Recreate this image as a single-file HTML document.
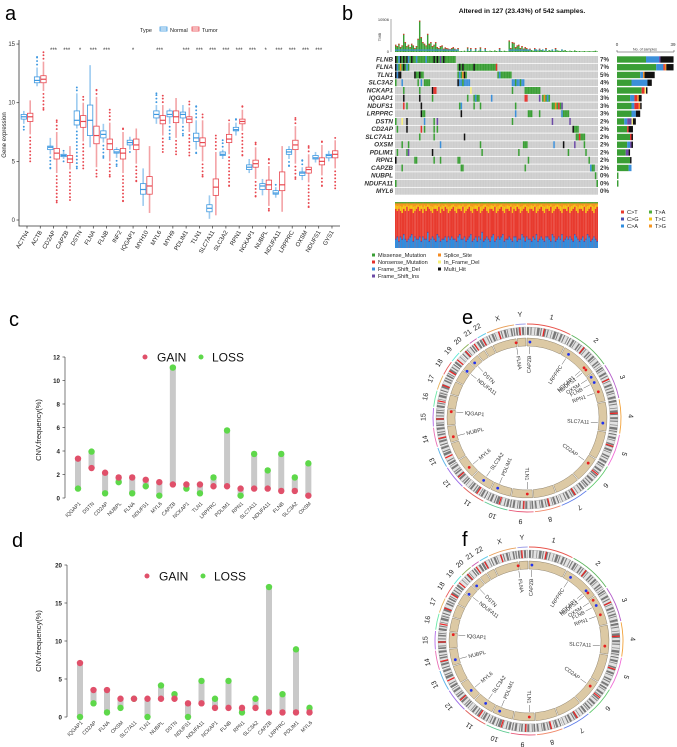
<!DOCTYPE html>
<html><head><meta charset="utf-8">
<style>
html,body{margin:0;padding:0;background:#fff;}
svg{display:block;font-family:"Liberation Sans",sans-serif;}
</style></head>
<body>
<svg id="fig" width="677" height="747" viewBox="0 0 677 747"></svg>
<script>
// ---------- Panel a data ----------
const aGenes=["ACTN4","ACTB","CD2AP","CAPZB","DSTN","FLNA","FLNB","INF2","IQGAP1","MYH10","MYL6","MYH9","PDLIM1","TLN1","SLC7A11","SLC3A2","RPN1","NCKAP1","NUBPL","NDUFA11","LRPPRC","OXSM","NDUFS1","GYS1"];
const aSig=["","","***","***","*","***","***","","*","","***","","***","***","***","***","***","***","*","***","***","***","***",""];
const nMed=[8.8,11.9,6.2,5.5,8.5,8.5,7.3,5.8,6.6,2.6,9.0,9.0,9.0,7.0,1.0,5.6,7.7,4.5,2.9,2.3,5.8,4.0,5.3,5.5];
const nQ1=[8.6,11.7,6.0,5.4,8.1,7.2,7.0,5.7,6.4,2.2,8.7,8.8,8.7,6.7,0.7,5.5,7.6,4.3,2.6,2.2,5.6,3.8,5.2,5.3];
const nQ3=[9.0,12.2,6.3,5.6,9.3,9.8,7.6,6.0,6.8,3.1,9.3,9.3,9.2,7.4,1.3,5.8,7.9,4.7,3.1,2.5,6.0,4.1,5.5,5.6];
const nLo=[8.2,11.4,5.6,5.2,7.8,6.2,6.6,5.3,6.0,1.2,8.2,8.2,8.2,6.0,0.1,5.2,7.2,4.0,2.1,1.9,5.2,3.4,4.9,5.0];
const nHi=[9.3,13.0,7.0,5.8,10.8,13.2,8.2,6.2,7.1,4.4,9.8,9.5,9.8,8.5,2.1,6.0,8.3,5.2,3.5,2.8,6.3,4.5,5.8,5.9];
const nOutLo=[7.7,null,4.4,5.0,4.4,null,5.3,4.6,5.8,null,null,6.9,7.2,5.7,null,null,null,null,null,null,4.6,null,null,null];
const nOutHi=[null,13.9,null,5.9,11.3,null,null,null,null,null,10.8,null,null,9.7,null,6.8,8.6,null,null,3.0,null,5.1,null,null];
const tMed=[8.8,12.0,5.7,5.2,8.4,7.2,6.5,5.7,6.4,2.9,8.5,8.8,8.6,6.6,2.8,6.9,8.4,4.8,3.0,3.0,6.4,4.3,5.0,5.6];
const tQ1=[8.4,11.7,5.2,4.9,7.9,6.5,6.0,5.2,6.0,2.2,8.2,8.3,8.3,6.3,2.1,6.6,8.2,4.5,2.6,2.5,6.0,4.0,4.7,5.3];
const tQ3=[9.1,12.3,6.1,5.5,8.9,8.0,6.9,6.1,6.9,3.7,8.9,9.3,8.8,7.0,3.5,7.3,8.6,5.1,3.4,4.1,6.8,4.5,5.3,5.9];
const tLo=[7.3,11.0,4.0,4.3,6.7,4.5,5.0,4.0,4.8,0.6,7.2,7.0,7.5,5.0,0.4,5.6,7.6,3.5,1.2,0.7,4.8,3.2,3.8,4.4];
const tHi=[10.2,13.5,7.5,6.3,10.0,10.5,8.3,7.5,7.8,6.3,9.8,10.4,9.6,8.5,5.8,8.3,9.4,6.2,4.6,6.3,8.0,5.6,6.4,6.8];
const tOutLo=[5.0,9.4,1.5,1.7,4.4,3.7,3.7,1.6,3.3,null,5.8,5.6,5.5,3.7,null,2.9,5.5,2.0,0.8,null,3.5,1.1,2.9,2.7];
const tOutHi=[null,14.3,8.5,null,10.5,11.1,9.4,7.8,null,null,10.6,null,10.1,9.0,7.2,8.5,9.7,6.6,5.2,null,8.7,6.3,6.7,7.0];
const aTicks=[0,5,10,15];

// ---------- Panel b data ----------
const bGenes=["FLNB","FLNA","TLN1","SLC3A2","NCKAP1","IQGAP1","NDUFS1","LRPPRC","DSTN","CD2AP","SLC7A11","OXSM","PDLIM1","RPN1","CAPZB","NUBPL","NDUFA11","MYL6"];
const bPct=["7%","7%","5%","4%","4%","3%","3%","3%","2%","2%","2%","2%","2%","2%","2%","0%","0%","0%"];
const bCells=[
 [[0,37,'g'],[0,0,'k'],[3,3,'k'],[5,5,'k'],[7,7,'k'],[10,10,'k'],[24,24,'k'],[26,26,'k'],[30,30,'k'],[2,2,'b'],[8,8,'b'],[13,13,'b'],[19,19,'b'],[28,28,'p']],
 [[0,8,'g'],[0,0,'k'],[1,1,'b'],[3,3,'o'],[5,5,'k'],[7,7,'b'],[39,63,'g'],[40,40,'k'],[42,42,'k'],[49,49,'k'],[63,63,'r']],
 [[0,3,'k'],[1,1,'b'],[12,17,'g'],[12,12,'k'],[15,15,'k'],[39,44,'g'],[40,40,'b'],[42,42,'o'],[43,43,'k'],[64,72,'g'],[65,65,'b']],
 [[0,0,'g'],[4,4,'b'],[14,14,'g'],[16,16,'b'],[18,21,'g'],[39,45,'b'],[39,39,'k'],[42,42,'g'],[46,46,'b'],[73,80,'b'],[75,75,'g'],[78,78,'g']],
 [[5,5,'g'],[15,15,'g'],[23,23,'k'],[24,25,'r'],[47,47,'y'],[73,73,'g'],[81,90,'g']],
 [[5,5,'k'],[15,15,'k'],[23,23,'g'],[45,45,'g'],[49,52,'g'],[50,50,'b'],[60,60,'b'],[81,82,'r'],[90,90,'p'],[92,96,'g'],[93,93,'o'],[95,95,'b']],
 [[5,5,'r'],[7,7,'g'],[16,16,'k'],[40,40,'g'],[41,41,'b'],[49,49,'g'],[53,53,'g'],[75,75,'g'],[98,104,'g'],[100,100,'o'],[102,102,'r'],[104,104,'p']],
 [[16,16,'k'],[17,18,'g'],[41,41,'k'],[75,75,'b'],[83,85,'g'],[90,90,'g'],[104,108,'g'],[104,104,'b']],
 [[0,0,'g'],[4,4,'y'],[7,7,'k'],[18,18,'b'],[24,24,'g'],[26,26,'p'],[73,73,'g'],[98,98,'p'],[109,109,'p']],
 [[1,1,'g'],[7,7,'k'],[16,16,'r'],[18,18,'g'],[24,24,'g'],[26,26,'g'],[111,111,'k'],[112,114,'g']],
 [[15,15,'g'],[24,24,'g'],[43,43,'k'],[113,118,'g'],[115,115,'r']],
 [[4,4,'g'],[8,8,'g'],[28,28,'b'],[53,53,'g'],[80,82,'g'],[99,99,'b'],[105,105,'k'],[112,112,'p'],[118,118,'g']],
 [[1,1,'g'],[7,7,'g'],[8,8,'p'],[23,23,'k'],[54,54,'g'],[77,77,'g'],[108,108,'g'],[119,119,'g']],
 [[0,0,'k'],[12,13,'g'],[24,24,'g'],[28,28,'g'],[39,40,'g'],[83,83,'g'],[121,121,'g']],
 [[4,4,'g'],[41,42,'g'],[81,81,'g'],[122,124,'b'],[123,124,'g']],
 [[125,125,'g']],
 [[0,0,'g'],[126,126,'g']],
 []
];
// right bar counts: green, blue, purple, red, orange, yellow, black
const bBarG=[20,27,16,10,17,9,10,10,5,7,9,7,6,9,8,1,1,0];
const bBarB=[9,5,2,11,0,3,2,3,2,0,0,2,0,0,2,0,0,0];
const bBarP=[1,0,0,0,0,0,0,0,3,0,0,1,2,0,0,0,0,0];
const bBarR=[0,1,0,0,2,2,3,0,0,1,1,0,0,0,0,0,0,0];
const bBarO=[0,1,1,0,0,1,1,0,0,0,0,0,0,0,0,0,0,0];
const bBarY=[0,0,0,0,1,0,0,0,1,0,0,0,0,0,0,0,0,0];
const bBarK=[9,5,7,3,1,2,1,3,2,3,1,1,1,1,0,0,0,0];
const tmb=[22,18,25,15,20,55,30,18,22,15,25,20,12,18,40,95,45,30,25,20,55,25,30,18,22,30,15,12,18,20,10,14,12,10,9,12,15,10,8,12,
 2,3,2,4,2,14,3,12,2,3,12,2,4,14,3,2,12,3,2,4,3,2,5,3,2,12,3,2,4,3,2,35,12,30,28,15,20,22,12,18,10,15,12,8,10,6,4,12,8,5,
 10,6,8,4,12,3,6,4,8,3,12,5,4,3,8,4,6,3,2,4,3,2,5,3,2,3,2,2,3,2,2,3,2,2,3,4,2];
const specBlue="3424353234524334243362343254233424343324533423452342436234324523434523343244233542433243523432443254234352343432543234235423432";
const specTop="2323423132243213242312342231423124321342231432134223143213422314321342231423124321342231432134223143212342231432134223143213421";

// ---------- Panel c / d data ----------
const cGenes=["IQGAP1","DSTN","CD2AP","NUBPL","FLNA","NDUFS1","MYL6","CAPZB","NCKAP1","TLN1","LRPPRC","PDLIM1","RPN1","SLC7A11","NDUFA11","FLNB","SLC3A2","OXSM"];
const cGain=[3.35,2.55,2.15,1.75,1.75,1.55,1.35,1.15,1.15,1.15,1.0,1.0,0.8,0.8,0.8,0.6,0.6,0.2];
const cLoss=[0.8,3.95,0.4,1.35,0.4,1.0,0.2,11.1,0.8,0.4,1.75,5.75,0.2,3.75,2.35,3.75,1.75,2.95];
const cTicks=[0,2,4,6,8,10,12];
const dGenes=["IQGAP1","CD2AP","FLNA","OXSM","SLC7A11","TLN1","NUBPL","DSTN","NDUFS1","NDUFA11","NCKAP1","FLNB","RPN1","SLC3A2","CAPZB","LRPPRC","PDLIM1","MYL6"];
const dGain=[7.1,3.55,3.55,2.4,2.4,2.4,2.4,2.4,1.8,1.8,1.2,1.2,1.2,1.2,0.6,0.6,0.6,0.6];
const dLoss=[0,1.8,0.6,1.2,2.4,0,4.15,3.0,0,4.75,2.4,4.75,0.6,2.4,17.1,3.0,8.9,1.2];
const dTicks=[0,5,10,15,20];

// ---------- circos data ----------
const chrNames=["1","2","3","4","5","6","7","8","9","10","11","12","13","14","15","16","17","18","19","20","21","22","X","Y"];
const chrLen=[249,242,198,190,181,171,159,145,138,134,135,133,114,107,102,90,83,80,59,64,47,51,156,57];
const cirGenes=["FLNA","CAPZB","LRPPRC","NCKAP1","NDUFS1","OXSM","FLNB","RPN1","SLC7A11","CD2AP","TLN1","PDLIM1","SLC3A2","MYL6","NUBPL","IQGAP1","NDUFA11","DSTN"];
const cirChr=[22,0,1,1,1,2,2,2,3,5,8,9,10,11,13,14,18,19];
const cirFrac=[0.98,0.08,0.18,0.76,0.84,0.08,0.29,0.64,0.73,0.28,0.25,0.72,0.48,0.42,0.30,0.88,0.10,0.27];

// ================= drawing =================
const NS='http://www.w3.org/2000/svg';
const svg=document.getElementById('fig');
function mk(tag,attrs,parent){const e=document.createElementNS(NS,tag);for(const k in attrs)e.setAttribute(k,attrs[k]);(parent||svg).appendChild(e);return e;}
function tx(s,attrs,parent){const e=mk('text',attrs,parent);e.textContent=s;return e;}
function grp(name){const g=mk('g',{});return g;}

[["a",5,20],["b",342,20],["c",9,326],["d",12,547],["e",462,324],["f",462,546]].forEach(p=>{
  const t=tx(p[0],{x:p[1],y:p[2],'font-size':20,fill:'#000'});
  
  
});

// ---------- Panel a ----------
(function(){
  const g=grp('panel-a-boxplot');
  const xA=i=>27+i*13.26, yA=v=>220-v*11.73;
  const NC='#3d98e0', TC='#e8474f';
  const ax=mk('path',{d:'M19 40 V226 H340',stroke:'#333','stroke-width':0.8,fill:'none'},g);
  
  
  aTicks.forEach(v=>{
    mk('line',{x1:16.5,x2:19,y1:yA(v),y2:yA(v),stroke:'#333','stroke-width':0.7},g);
    const t=tx(v,{x:15,y:yA(v)+2,'font-size':6,'text-anchor':'end',fill:'#333'},g);
    
    
  });
  const yt=tx('Gene expression',{x:0,y:0,'font-size':6,'text-anchor':'middle',transform:'translate(6,135) rotate(-90)',fill:'#222'},g);
  
  
  function box(x,med,q1,q3,lo,hi,olo,ohi,c,light){
    mk('line',{x1:x,x2:x,y1:yA(hi),y2:yA(q3),stroke:light,'stroke-width':1.6},g);
    mk('line',{x1:x,x2:x,y1:yA(q1),y2:yA(lo),stroke:light,'stroke-width':1.6},g);
    if(olo!==null){for(let v=lo-0.25;v>=olo-0.001;v-=0.3)mk('circle',{cx:x,cy:yA(v),r:0.95,fill:c},g);mk('circle',{cx:x,cy:yA(olo),r:0.95,fill:c},g);}
    if(ohi!==null){for(let v=hi+0.25;v<=ohi+0.001;v+=0.3)mk('circle',{cx:x,cy:yA(v),r:0.95,fill:c},g);mk('circle',{cx:x,cy:yA(ohi),r:0.95,fill:c},g);}
    const b=mk('rect',{x:x-2.7,y:yA(q3),width:5.4,height:Math.max(0.8,yA(q1)-yA(q3)),fill:'#fff',stroke:c,'stroke-width':0.8},g);
    
    
    mk('line',{x1:x-2.7,x2:x+2.7,y1:yA(med),y2:yA(med),stroke:c,'stroke-width':1.2},g);
  }
  aGenes.forEach((gn,i)=>{
    const x=xA(i);
    box(x-3.2,nMed[i],nQ1[i],nQ3[i],nLo[i],nHi[i],nOutLo[i],nOutHi[i],NC,'#9ccbf0');
    box(x+3.2,tMed[i],tQ1[i],tQ3[i],tLo[i],tHi[i],tOutLo[i],tOutHi[i],TC,'#f3a3a6');
    mk('line',{x1:x,x2:x,y1:226,y2:228.5,stroke:'#333','stroke-width':0.7},g);
    const t=tx(gn,{x:0,y:0,'font-size':6,'text-anchor':'end',transform:`translate(${x+2},${232}) rotate(-60)`,fill:'#222'},g);
    
    
    if(aSig[i]){const s=tx(aSig[i],{x:x,y:52,'font-size':6,'text-anchor':'middle',fill:'#333'},g);
      
      }
  });
  const lg=mk('g',{},g);
  
  
  tx('Type',{x:140,y:32,'font-size':5.5,fill:'#222'},lg);
  mk('rect',{x:160,y:27,width:7,height:4,fill:'#fff',stroke:NC,'stroke-width':0.8},lg);
  mk('line',{x1:160,x2:167,y1:29,y2:29,stroke:NC,'stroke-width':0.8},lg);
  tx('Normal',{x:170,y:32,'font-size':5.5,fill:'#222'},lg);
  mk('rect',{x:192,y:27,width:7,height:4,fill:'#fff',stroke:TC,'stroke-width':0.8},lg);
  mk('line',{x1:192,x2:199,y1:29,y2:29,stroke:TC,'stroke-width':0.8},lg);
  tx('Tumor',{x:202,y:32,'font-size':5.5,fill:'#222'},lg);
})();

// ---------- Panel b ----------
(function(){
  const g=grp('panel-b-oncoplot');
  const COL={g:'#3a9e35',r:'#e4312b',b:'#3b8fd9',k:'#111',p:'#6c4aa6',o:'#f58a1f',y:'#f7f07a'};
  const x0=395,W=203,ncol=127,cw=W/ncol,y0=56,rh=7.75;
  const ti=tx('Altered in 127 (23.43%) of 542 samples.',{x:522,y:13,'font-size':6.8,'font-weight':'bold','text-anchor':'middle',fill:'#111'},g);
  
  
  mk('line',{x1:391,x2:391,y1:19,y2:52,stroke:'#555','stroke-width':0.5},g);
  tx('10506',{x:389,y:21,'font-size':4,'text-anchor':'end',fill:'#333'},g);
  tx('0',{x:389,y:53,'font-size':4,'text-anchor':'end',fill:'#333'},g);
  tx('TMB',{x:0,y:0,'font-size':4,'text-anchor':'middle',transform:'translate(381,37) rotate(-90)',fill:'#333'},g);
  const tw=W/tmb.length;
  tmb.forEach((v,i)=>{
    const h=v/100*33;
    const b=mk('rect',{x:x0+i*tw,y:52-h,width:tw*0.9,height:h,fill:COL.g},g);
    
    
    if(h>3)mk('rect',{x:x0+i*tw,y:52-h,width:tw*0.9,height:1,fill:COL.r},g);
    if(h>2)mk('rect',{x:x0+i*tw,y:52-Math.min(h,2.5),width:tw*0.9,height:Math.min(h,2.5)*0.5,fill:COL.b},g);
  });
  bGenes.forEach((gn,r)=>{
    const y=y0+r*rh;
    const row=mk('rect',{x:x0,y:y,width:W,height:rh-0.8,fill:'#cdcdcd'},g);
    
    
    bCells[r].forEach(s=>{
      mk('rect',{x:x0+s[0]*cw,y:y,width:(s[1]-s[0]+1)*cw,height:rh-0.8,fill:COL[s[2]]},g);
    });
    const l=tx(gn,{x:393,y:y+5.4,'font-size':6.4,'font-style':'italic','font-weight':'bold','text-anchor':'end',fill:'#333'},g);
    
    
    const p=tx(bPct[r],{x:600,y:y+5.4,'font-size':6.2,'font-weight':'bold',fill:'#333'},g);
    
    
    let bx=617;const sc=1.45;
    [[bBarG,COL.g],[bBarB,COL.b],[bBarP,COL.p],[bBarR,COL.r],[bBarO,COL.o],[bBarY,COL.y],[bBarK,COL.k]].forEach(([arr,c])=>{
      const w=arr[r]*sc;
      if(w>0){const rb=mk('rect',{x:bx,y:y+0.3,width:w,height:rh-1.4,fill:c},g);
        
        }
      bx+=w;
    });
  });
  for(let c=1;c<ncol;c++)mk('line',{x1:x0+c*cw,x2:x0+c*cw,y1:y0,y2:y0+18*rh,stroke:'#fff','stroke-width':0.15,opacity:0.6},g);
  mk('line',{x1:617,x2:674,y1:52,y2:52,stroke:'#333','stroke-width':0.5},g);
  mk('line',{x1:617,x2:617,y1:50,y2:52,stroke:'#333','stroke-width':0.5},g);
  mk('line',{x1:674,x2:674,y1:50,y2:52,stroke:'#333','stroke-width':0.5},g);
  tx('0',{x:617,y:46,'font-size':4.5,'text-anchor':'middle',fill:'#333'},g);
  tx('39',{x:673,y:46,'font-size':4.5,'text-anchor':'middle',fill:'#333'},g);
  tx('No. of samples',{x:645,y:50.5,'font-size':3.6,'text-anchor':'middle',fill:'#333'},g);
  const sw=W/specBlue.length;const sy=202,sh=46;
  for(let i=0;i<specBlue.length;i++){
    const bf=(+specBlue[i])*0.05+0.03, tf=(+specTop[i])*0.045+0.03, gf=0.03;
    const x=x0+i*sw;
    mk('rect',{x:x,y:sy,width:sw,height:sh,fill:'#e83a2e'},g);
    const bl=mk('rect',{x:x,y:sy+sh*(1-bf),width:sw,height:sh*bf,fill:'#2f8ee0'},g);
    
    
    mk('rect',{x:x,y:sy+sh*(1-bf)-1,width:sw,height:1,fill:'#4a4fb0'},g);
    mk('rect',{x:x,y:sy+sh*gf,width:sw,height:sh*tf,fill:'#f5c518'},g);
    mk('rect',{x:x,y:sy+sh*gf,width:sw,height:sh*tf*0.35,fill:'#f5951f'},g);
    mk('rect',{x:x,y:sy,width:sw,height:sh*gf,fill:'#4fae3a'},g);
  }
  const lg=mk('g',{},g);
  
  
  [['Missense_Mutation',COL.g,372,257],['Splice_Site',COL.o,438,257],['Nonsense_Mutation',COL.r,372,264],['In_Frame_Del',COL.y,438,264],['Frame_Shift_Del',COL.b,372,271],['Multi_Hit',COL.k,438,271],['Frame_Shift_Ins',COL.p,372,278]].forEach(e=>{
    mk('rect',{x:e[2],y:e[3]-3.5,width:3,height:3,fill:e[1]},lg);
    tx(e[0],{x:e[2]+6,y:e[3],'font-size':5.6,fill:'#222'},lg);
  });
  const lg2=mk('g',{},g);
  
  
  [['C>T','#e83a2e',621,214],['C>G','#4a4fb0',621,221],['C>A','#2f8ee0',621,228],['T>A','#4fae3a',649,214],['T>C','#f5c518',649,221],['T>G','#f5951f',649,228]].forEach(e=>{
    mk('rect',{x:e[2],y:e[3]-3.5,width:3,height:3,fill:e[1]},lg2);
    tx(e[0],{x:e[2]+6,y:e[3],'font-size':5.6,fill:'#222'},lg2);
  });
})();

// ---------- Panels c, d ----------
function lollipop(name,genes,gain,loss,ticks,cfg){
  const g=grp(name);
  const xL=i=>cfg.x0+i*cfg.dx, yL=v=>cfg.y0-v*cfg.ppu;
  const ax=mk('line',{x1:cfg.ax,x2:cfg.ax,y1:yL(ticks[ticks.length-1]),y2:yL(0),stroke:'#444','stroke-width':0.7},g);
  
  
  ticks.forEach(v=>{
    mk('line',{x1:cfg.ax-2.5,x2:cfg.ax,y1:yL(v),y2:yL(v),stroke:'#444','stroke-width':0.7},g);
    const t=tx(v,{x:cfg.ax-5,y:yL(v)+2.3,'font-size':6.2,'font-weight':'bold','text-anchor':'end',fill:'#222'},g);
    
    
  });
  const yt=tx('CNV.frequency(%)',{x:0,y:0,'font-size':7.5,'text-anchor':'middle',transform:`translate(${cfg.tx},${cfg.ty}) rotate(-90)`,fill:'#222'},g);
  
  
  genes.forEach((gn,i)=>{
    const x=xL(i),a=gain[i],b=loss[i];
    const bar=mk('rect',{x:x-3,y:yL(Math.max(a,b)),width:6,height:Math.abs(yL(a)-yL(b)),fill:'#c9c9c9'},g);
    
    
    const lo=mk('circle',{cx:x,cy:yL(b),r:3.2,fill:'#5ed84a'},g);
    
    
    const ga=mk('circle',{cx:x,cy:yL(a),r:3.2,fill:'#e0506a'},g);
    
    
    const t=tx(gn,{x:0,y:0,'font-size':5.2,'text-anchor':'end',transform:`translate(${x+3},${cfg.y0+6}) rotate(-45)`,fill:'#333'},g);
    
    
  });
  const lg=mk('g',{},g);
  
  
  mk('circle',{cx:cfg.lx,cy:cfg.ly,r:2.5,fill:'#e0506a'},lg);
  tx('GAIN',{x:cfg.lx+12,y:cfg.ly+4.3,'font-size':12,fill:'#111'},lg);
  mk('circle',{cx:cfg.lx+56,cy:cfg.ly,r:2.5,fill:'#5ed84a'},lg);
  tx('LOSS',{x:cfg.lx+67,y:cfg.ly+4.3,'font-size':12,fill:'#111'},lg);
}
lollipop('panel-c-cnv',cGenes,cGain,cLoss,cTicks,{x0:78,dx:13.55,y0:498,ppu:11.75,ax:65,tx:41,ty:430,lx:145,ly:357});
lollipop('panel-d-cnv',dGenes,dGain,dLoss,dTicks,{x0:80,dx:13.5,y0:717,ppu:7.6,ax:67,tx:41,ty:641,lx:147,ly:576});

// ---------- circos ----------
function circos(name,cx,cy,gain,loss,genesOrder){
  const g=grp(name);
  const total=chrLen.reduce((a,b)=>a+b,0);
  const gapDeg=0.8;
  const span=360-gapDeg*chrLen.length;
  const starts=[];let acc=0;
  chrLen.forEach((L,i)=>{starts.push(acc+i*gapDeg);acc+=L/total*span;});
  const ang=(c,f)=>starts[c]+f*chrLen[c]/total*span;
  const pt=(r,a)=>[cx+r*Math.sin(a*Math.PI/180),cy-r*Math.cos(a*Math.PI/180)];
  function arcPath(r,a0,a1){const p0=pt(r,a0),p1=pt(r,a1);return `M${p0[0]} ${p0[1]} A${r} ${r} 0 ${a1-a0>180?1:0} 1 ${p1[0]} ${p1[1]}`;}
  function ringSeg(r0,r1,a0,a1){const a=pt(r1,a0),b=pt(r1,a1),c=pt(r0,a1),d=pt(r0,a0);const lf=a1-a0>180?1:0;
    return `M${a[0]} ${a[1]} A${r1} ${r1} 0 ${lf} 1 ${b[0]} ${b[1]} L${c[0]} ${c[1]} A${r0} ${r0} 0 ${lf} 0 ${d[0]} ${d[1]}Z`;}
  const pal=['#e8554e','#5bb35b','#b35bc9','#f2a23a','#f06bd6','#5ec96b','#5b7ae8','#f08a6b','#e85b7a','#5bc98f','#e0605b','#9b6be8','#5bb3e8','#e86bb3','#b36be8','#6be8a8','#e8b35b','#e85b5b','#5be8d6','#8fb35b','#c95bb3','#5bc9e8','#e8a05b','#a0a0e8'];
  const stripe=['2 1.5 1 3 0.6 1.8 2.5 1 1 2.2','1 2 2 1 0.7 3 1.5 1.2','1.5 1 0.8 2.5 2 1.6 1 2'];
  chrLen.forEach((L,i)=>{
    const a0=starts[i],a1=a0+L/total*span;
    const oa=mk('path',{d:arcPath(94,a0,a1),stroke:pal[i],'stroke-width':0.9,fill:'none'},g);
    
    
    const id=mk('path',{d:ringSeg(83,91,a0,a1),fill:'#e2e2e2',stroke:'#888','stroke-width':0.3},g);
    
    
    mk('path',{d:arcPath(87,a0,a1),stroke:'#222','stroke-width':7.6,fill:'none','stroke-dasharray':stripe[i%3],opacity:0.55},g);
    const cm=ang(i,0.4);const q0=pt(83,cm),q1=pt(91,cm);
    mk('line',{x1:q0[0],y1:q0[1],x2:q1[0],y2:q1[1],stroke:'#e22','stroke-width':1.2},g);
    mk('path',{d:ringSeg(72,80,a0,a1),fill:'#dcc9a4',stroke:'#7a6e5a','stroke-width':0.4},g);
    const lp=pt(104,(a0+a1)/2);
    const lbl=tx(chrNames[i],{x:0,y:0,'font-size':7,'text-anchor':'middle',transform:`translate(${lp[0]},${lp[1]}) rotate(${(a0+a1)/2}) translate(0,2.5)`,fill:'#222'},g);
    
    
  });
  cirGenes.forEach((gn,j)=>{
    const k=genesOrder.indexOf(gn);
    const col=gain[k]>=loss[k]?'#e82020':'#2233ee';
    const a=ang(cirChr[j],cirFrac[j]);
    const d=pt(76,a);
    const dot=mk('circle',{cx:d[0],cy:d[1],r:1.4,fill:col},g);
    
    
    const l0=pt(71,a),l1=pt(64,a);
    mk('line',{x1:l0[0],y1:l0[1],x2:l1[0],y2:l1[1],stroke:'#333','stroke-width':0.4},g);
    const tp=pt(62.5,a);
    const right=a<180;
    const rot=right?a-90:a+90;
    const t=tx(gn,{x:0,y:0,'font-size':5.3,'text-anchor':right?'end':'start',transform:`translate(${tp[0]},${tp[1]}) rotate(${rot}) translate(0,1.8)`,fill:'#333'},g);
    
    
  });
}
circos('panel-e-circos',527,418,cGain,cLoss,cGenes);
circos('panel-f-circos',529,641,dGain,dLoss,dGenes);
</script>
</body></html>
